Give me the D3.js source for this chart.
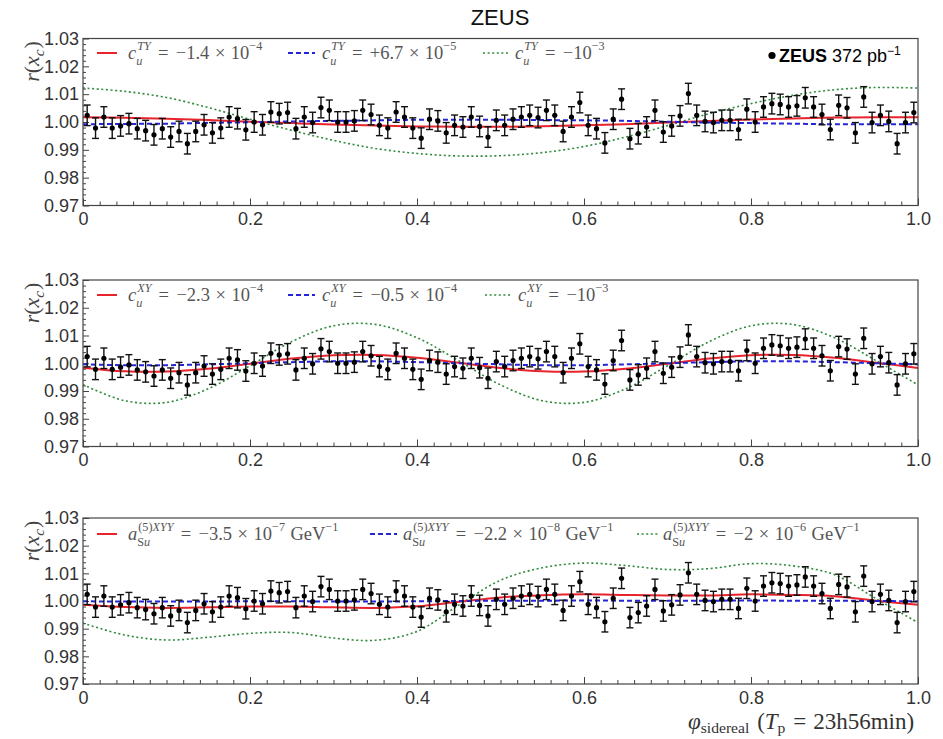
<!DOCTYPE html>
<html><head><meta charset="utf-8">
<script src="https://cdn.jsdelivr.net/npm/d3@7"></script>
<style>body{margin:0;background:#fff} svg{display:block}</style>
</head><body>
<svg id="chart" width="943" height="739"></svg>
<script>
// ---------------- DATA ----------------
const binCount = 100;
const ratio = [
 1.0024,0.9978,1.0018,0.9978,0.9986,0.9994,0.9976,0.9969,0.9954,0.9976,
 0.9946,0.9966,0.9922,0.9966,0.9990,0.9961,0.9978,1.0018,1.0012,0.9972,
 1.0000,0.9990,1.0036,1.0030,1.0034,0.9976,1.0018,0.9998,1.0052,1.0042,
 1.0000,1.0000,1.0004,1.0042,1.0027,0.9988,0.9978,1.0036,1.0018,0.9978,
 0.9942,1.0010,1.0004,0.9961,0.9988,0.9982,1.0018,0.9984,0.9946,1.0006,
 0.9988,1.0010,1.0018,1.0024,1.0016,1.0042,1.0024,0.9966,1.0018,1.0070,
 0.9988,0.9976,0.9925,1.0010,1.0082,0.9940,0.9958,0.9982,1.0042,0.9964,
 0.9986,1.0022,1.0102,1.0024,1.0002,0.9998,1.0006,1.0006,0.9973,1.0046,
 1.0000,1.0054,1.0066,1.0063,1.0054,1.0058,1.0087,1.0054,1.0027,0.9973,
 1.0060,1.0051,0.9961,1.0090,0.9998,1.0024,1.0002,0.9922,0.9998,1.0034];
const ratioErr = 0.0037;

const curvePhi = [0,0.05,0.1,0.15,0.2,0.25,0.3,0.35,0.4,0.45,0.5,0.55,0.6,0.65,0.7,0.75,0.8,0.85,0.9,0.95,1.0];

const tyRed   = [1.0017,1.0015,1.0012,1.0007,1.0001,0.9996,0.9991,0.9987,0.9984,0.9983,0.9983,0.9985,0.9988,0.9992,0.9998,1.0004,1.0009,1.0013,1.0016,1.0017,1.0017];
const tyBlue  = [0.9992,0.9993,0.9994,0.9997,0.9999,1.0002,1.0004,1.0006,1.0008,1.0008,1.0008,1.0007,1.0006,1.0004,1.0001,0.9998,0.9996,0.9994,0.9992,0.9992,0.9992];
const tyGreen = [1.0122,1.0110,1.0088,1.0052,1.0010,0.9970,0.9934,0.9905,0.9887,0.9878,0.9879,0.9890,0.9912,0.9946,0.9987,1.0030,1.0066,1.0096,1.0116,1.0124,1.0122];

const xyRed   = [0.9984,0.9971,0.9970,0.9980,0.9998,1.0017,1.0029,1.0030,1.0020,1.0002,0.9983,0.9971,0.9970,0.9980,0.9998,1.0017,1.0029,1.0030,1.0020,1.0002,0.9983];
const xyBlue  = [0.9996,0.9993,0.9993,0.9996,1.0000,1.0004,1.0007,1.0007,1.0004,1.0000,0.9996,0.9993,0.9993,0.9996,1.0000,1.0004,1.0007,1.0007,1.0004,1.0000,0.9996];
const xyGreen = [0.9923,0.9865,0.9859,0.9908,0.9991,1.0078,1.0135,1.0140,1.0092,1.0009,0.9922,0.9865,0.9859,0.9908,0.9991,1.0078,1.0135,1.0140,1.0092,1.0009,0.9922];

const xyyRed   = [0.9986,0.9978,0.9975,0.9977,0.9980,0.9980,0.9977,0.9975,0.9981,0.9997,1.0013,1.0021,1.0024,1.0022,1.0020,1.0020,1.0024,1.0022,1.0017,1.0001,0.9986];
const xyyBlue  = [0.9999,0.9998,0.9998,0.9998,0.9999,0.9999,0.9998,0.9998,0.9999,1.0000,1.0001,1.0001,1.0002,1.0001,1.0001,1.0001,1.0002,1.0001,1.0001,1.0000,0.9999];
const xyyGreen = [0.9920,0.9877,0.9859,0.9869,0.9883,0.9886,0.9866,0.9858,0.9890,0.9985,1.0075,1.0120,1.0137,1.0128,1.0114,1.0117,1.0135,1.0127,1.0095,1.0008,0.9922];

const yTicks = [0.97,0.98,0.99,1.00,1.01,1.02,1.03];
const xTicks = [0,0.2,0.4,0.6,0.8,1.0];
const xTickLabels = ['0','0.2','0.4','0.6','0.8','1.0'];

const legendTY = [
  {sym:'c', sup:[['TY',1]], sub:[['u',1]], mant:'−1.4', exp:'−4', unit:false},
  {sym:'c', sup:[['TY',1]], sub:[['u',1]], mant:'+6.7', exp:'−5', unit:false},
  {sym:'c', sup:[['TY',1]], sub:[['u',1]], mant:null,   exp:'−3', unit:false}];
const legendXY = [
  {sym:'c', sup:[['XY',1]], sub:[['u',1]], mant:'−2.3', exp:'−4', unit:false},
  {sym:'c', sup:[['XY',1]], sub:[['u',1]], mant:'−0.5', exp:'−4', unit:false},
  {sym:'c', sup:[['XY',1]], sub:[['u',1]], mant:null,   exp:'−3', unit:false}];
const legendXYY = [
  {sym:'a', sup:[['(5)',0],['XYY',1]], sub:[['S',0],['u',1]], mant:'−3.5', exp:'−7', unit:true},
  {sym:'a', sup:[['(5)',0],['XYY',1]], sub:[['S',0],['u',1]], mant:'−2.2', exp:'−8', unit:true},
  {sym:'a', sup:[['(5)',0],['XYY',1]], sub:[['S',0],['u',1]], mant:'−2',   exp:'−6', unit:true}];

const titleText = 'ZEUS';
const dataLabel = ['ZEUS', '372 pb', '−1'];

// ---------------- LAYOUT / STYLE ----------------
const svg = d3.select('#chart');
const xL = 83, xR = 918;
const serif = "'Liberation Serif','Times New Roman',serif";
const sans = "'Liberation Sans',Arial,sans-serif";
const lineStyles = [
  {color:'#e8232b', w:2.0, dash:null},
  {color:'#2424d8', w:2.0, dash:'5,3'},
  {color:'#2f8a3c', w:1.6, dash:'2,2.6'}];

const panels = [
  {top:38.5, bottom:205.5, curves:[tyRed,tyBlue,tyGreen], legend:legendTY,
   lx:[[97,117,128],[288,315,322],[483,510,515]], ly:14.5, lb:20.5, zeus:true},
  {top:280, bottom:446.5, curves:[xyRed,xyBlue,xyGreen], legend:legendXY,
   lx:[[97,117,128],[288,315,322],[485,510,518]], ly:15, lb:21, zeus:false},
  {top:518, bottom:684, curves:[xyyRed,xyyBlue,xyyGreen], legend:legendXYY,
   lx:[[97,117,128],[370,397,403],[637,658,663]], ly:16, lb:22, zeus:false}];

const x = d3.scaleLinear().domain([0,1]).range([xL,xR]);
const phiBins = d3.range(binCount).map(i => (i + 0.5) / binCount);

function drawMath(g, x0, y0, fs, tokens, fill, opt) {
  const o = Object.assign({supUp:0.5, subDown:0.3, scale:0.66}, opt || {});
  let cx = x0;
  const mk = (xx, yy, size, parts) => {
    const t = g.append('text').attr('x', xx).attr('y', yy)
      .attr('font-family', serif).attr('font-size', size).attr('fill', fill);
    parts.forEach(([s, it]) => t.append('tspan').attr('font-style', it ? 'italic' : 'normal').text(s));
    return t.node().getComputedTextLength();
  };
  tokens.forEach(tok => {
    if (tok.g != null) { cx += tok.g * fs; return; }
    if (tok.t != null) { cx += mk(cx, y0, fs, [[tok.t, tok.it]]); return; }
    let w = 0;
    if (tok.sup) w = Math.max(w, mk(cx + (tok.supShift||0), y0 - fs*o.supUp, fs*o.scale, tok.sup));
    if (tok.sub) w = Math.max(w, mk(cx, y0 + fs*o.subDown, fs*o.scale, tok.sub));
    cx += w + fs*0.04;
  });
  return cx;
}

function coefTokens(item) {
  const toks = [{t:item.sym, it:true}, {sup:item.sup, sub:item.sub, supShift:1},
    {g:0.4}, {t:'='}, {g:0.4}];
  if (item.mant) toks.push({t:item.mant}, {g:0.3}, {t:'×'}, {g:0.3}, {t:'10'});
  else toks.push({t:'−10'});
  toks.push({sup:[[item.exp,0]]});
  if (item.unit) toks.push({g:0.25}, {t:'GeV'}, {sup:[['−1',0]]});
  return toks;
}

// Title
svg.append('text').attr('x', 500).attr('y', 25).attr('text-anchor','middle')
  .attr('font-family', sans).attr('font-size', 22).attr('fill','#111').text(titleText);

panels.forEach((p, pi) => {
  const y = d3.scaleLinear().domain([0.97,1.03]).range([p.bottom, p.top]);
  const g = svg.append('g');
  const clipId = 'clip' + pi;
  svg.append('clipPath').attr('id', clipId).append('rect')
    .attr('x', xL).attr('y', p.top).attr('width', xR - xL).attr('height', p.bottom - p.top);

  // axes
  const ya = g.append('g').attr('transform', `translate(${xL},0)`)
    .call(d3.axisLeft(y).tickValues(yTicks).tickSizeInner(-6).tickSizeOuter(0).tickPadding(4).tickFormat(d3.format('.2f')));
  ya.select('.domain').remove();
  ya.selectAll('text').attr('font-family', sans).attr('font-size', 18).attr('fill', '#333');
  ya.selectAll('line').attr('stroke', '#444');
  const yMinor = d3.range(0, 31).map(i => 0.97 + i * 0.002).filter(v => Math.abs(Math.round(v*100) - v*100) > 1e-6);
  const ym = g.append('g').attr('transform', `translate(${xL},0)`)
    .call(d3.axisLeft(y).tickValues(yMinor).tickSizeInner(-3).tickSizeOuter(0).tickFormat(''));
  ym.select('.domain').remove();
  ym.selectAll('line').attr('stroke', '#444');

  const xa = g.append('g').attr('transform', `translate(0,${p.bottom})`)
    .call(d3.axisBottom(x).tickValues(xTicks).tickSizeInner(-7).tickSizeOuter(0).tickPadding(7)
      .tickFormat((d, i) => xTickLabels[i]));
  xa.select('.domain').remove();
  xa.selectAll('text').attr('font-family', sans).attr('font-size', 18).attr('fill', '#333');
  xa.selectAll('line').attr('stroke', '#444');
  const xMinor = d3.range(1, 50).map(i => i * 0.02).filter(v => Math.abs(Math.round(v*5) - v*5) > 1e-6);
  const xm = g.append('g').attr('transform', `translate(0,${p.bottom})`)
    .call(d3.axisBottom(x).tickValues(xMinor).tickSizeInner(-4).tickSizeOuter(0).tickFormat(''));
  xm.select('.domain').remove();
  xm.selectAll('line').attr('stroke', '#444');

  // curves: green, red, blue
  const cg = g.append('g').attr('clip-path', `url(#${clipId})`);
  [2, 0, 1].forEach(ci => {
    const st = lineStyles[ci];
    const line = d3.line().x((d, i) => x(curvePhi[i])).y(d => y(d)).curve(d3.curveCatmullRom.alpha(0.5));
    cg.append('path').attr('d', line(p.curves[ci])).attr('fill', 'none')
      .attr('stroke', st.color).attr('stroke-width', st.w)
      .attr('stroke-dasharray', st.dash);
  });

  // data
  const dg = g.append('g');
  ratio.forEach((v, i) => {
    const px = x(phiBins[i]);
    dg.append('line').attr('x1', px).attr('x2', px).attr('y1', y(v - ratioErr)).attr('y2', y(v + ratioErr))
      .attr('stroke', '#111').attr('stroke-width', 1.4);
    [v - ratioErr, v + ratioErr].forEach(e => dg.append('line').attr('x1', px - 3.5).attr('x2', px + 3.5)
      .attr('y1', y(e)).attr('y2', y(e)).attr('stroke', '#111').attr('stroke-width', 1.4));
    dg.append('circle').attr('cx', px).attr('cy', y(v)).attr('r', 2.6).attr('fill', '#000');
  });

  // frame
  g.append('rect').attr('x', xL).attr('y', p.top).attr('width', xR - xL).attr('height', p.bottom - p.top)
    .attr('fill', 'none').attr('stroke', '#444').attr('stroke-width', 1.2);

  // legend
  p.legend.forEach((item, li) => {
    const st = lineStyles[li];
    const [a, b, tx] = p.lx[li];
    g.append('line').attr('x1', a).attr('x2', b).attr('y1', p.top + p.ly).attr('y2', p.top + p.ly)
      .attr('stroke', st.color).attr('stroke-width', st.w).attr('stroke-dasharray', st.dash);
    drawMath(g, tx, p.top + p.lb, 18.5, coefTokens(item), '#555');
  });

  if (p.zeus) {
    g.append('circle').attr('cx', 772).attr('cy', p.top + 17).attr('r', 3.6).attr('fill', '#000');
    const t = g.append('text').attr('x', 779).attr('y', p.top + 23).attr('font-family', sans)
      .attr('font-size', 18).attr('fill', '#000');
    t.append('tspan').attr('font-weight', 'bold').text(dataLabel[0]);
    t.append('tspan').attr('dx', 5).text(dataLabel[1]);
    t.append('tspan').attr('dy', -7).attr('font-size', 12).text(dataLabel[2]);
  }

  // y-axis title r(x_c)
  const yt = g.append('g').attr('transform', `translate(39,${p.top + 23}) rotate(-90)`);
  const inner = yt.append('g');
  const w = drawMath(inner, 0, 0, 22, [{t:'r', it:true}, {t:'('}, {t:'x', it:true}, {sub:[['c',1]]}, {t:')'}], '#444',
    {subDown:0.22, scale:0.7});
  inner.attr('transform', `translate(${-w/2},0)`);
});

// x-axis title
drawMath(svg.append('g'), 688, 729, 23,
  [{t:'φ', it:true}, {sub:[['sidereal',0]]}, {g:0.3}, {t:'('}, {t:'T', it:true}, {sub:[['p',0]]},
   {g:0.3}, {t:'='}, {g:0.3}, {t:'23h56min)'}], '#333', {subDown:0.18, scale:0.68});
</script>
</body></html>
